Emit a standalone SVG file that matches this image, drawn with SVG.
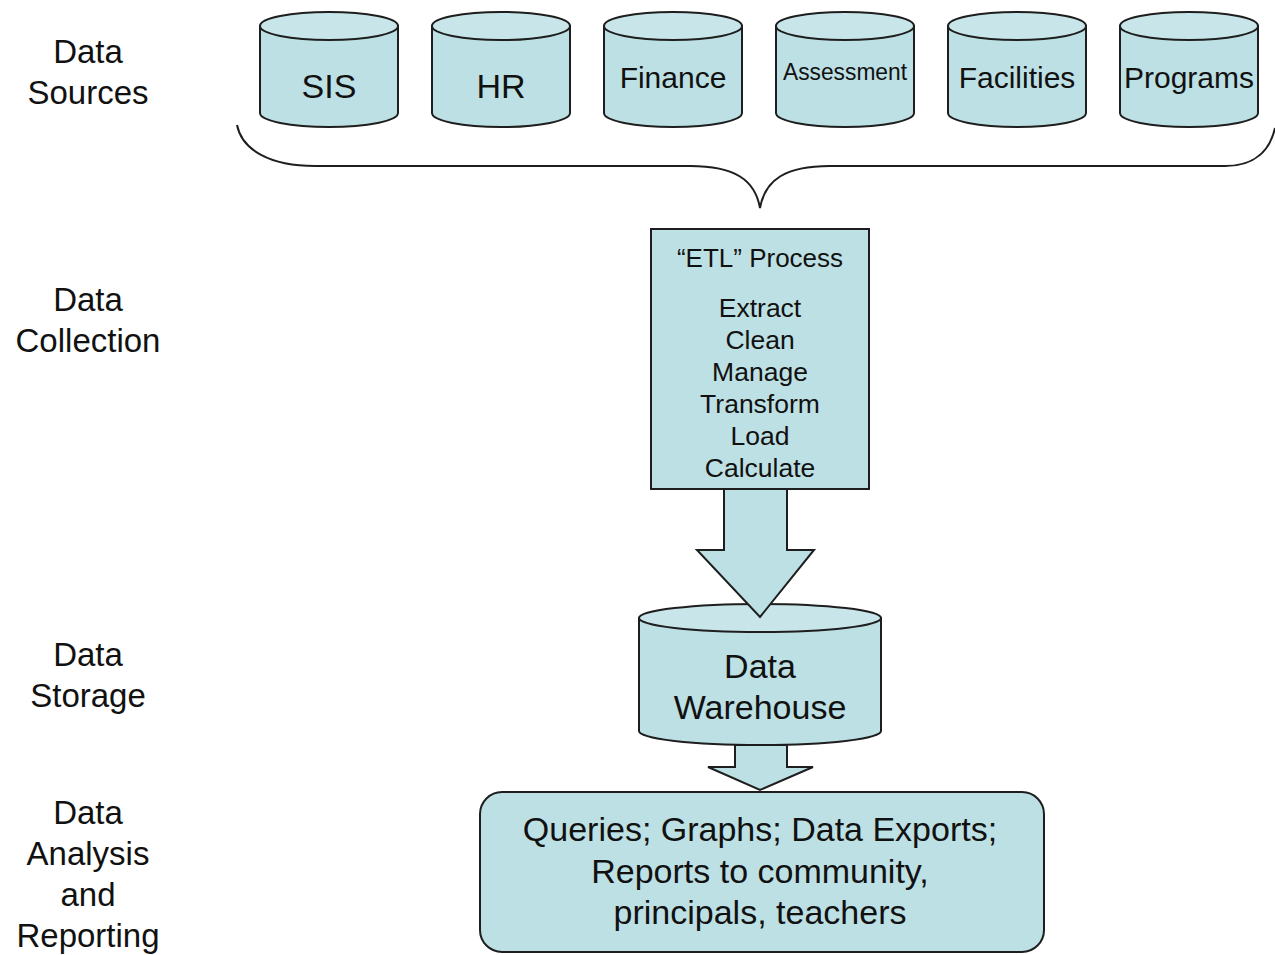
<svg xmlns="http://www.w3.org/2000/svg" width="1275" height="955" viewBox="0 0 1275 955">
<style>
.sh{fill:#bde0e4;stroke:#1e1e1e;stroke-width:2}
.top{fill:#c8e6ea;stroke:#1e1e1e;stroke-width:2}
.t{font-family:"Liberation Sans",Arial,sans-serif;fill:#111;text-anchor:middle}
.lbl{font-family:"Liberation Sans",Arial,sans-serif;fill:#111;text-anchor:middle;font-size:33px}
.br{fill:none;stroke:#1e1e1e;stroke-width:2}
</style>
<rect width="1275" height="955" fill="#fff"/>
<g id="labels">
<text class="lbl" x="88" y="63">Data</text>
<text class="lbl" x="88" y="104">Sources</text>
<text class="lbl" x="88" y="311">Data</text>
<text class="lbl" x="88" y="352">Collection</text>
<text class="lbl" x="88" y="666">Data</text>
<text class="lbl" x="88" y="707">Storage</text>
<text class="lbl" x="88" y="824">Data</text>
<text class="lbl" x="88" y="865">Analysis</text>
<text class="lbl" x="88" y="906">and</text>
<text class="lbl" x="88" y="947">Reporting</text>
</g>
<g id="sis">
<path class="sh" d="M260,26 L260,113 A69,14 0 0 0 398,113 L398,26 Z"/>
<ellipse class="top" cx="329" cy="26" rx="69" ry="14"/>
<text class="t" x="329" y="98" font-size="34">SIS</text>
</g>
<g id="hr">
<path class="sh" d="M432,26 L432,113 A69,14 0 0 0 570,113 L570,26 Z"/>
<ellipse class="top" cx="501" cy="26" rx="69" ry="14"/>
<text class="t" x="501" y="98" font-size="34">HR</text>
</g>
<g id="finance">
<path class="sh" d="M604,26 L604,113 A69,14 0 0 0 742,113 L742,26 Z"/>
<ellipse class="top" cx="673" cy="26" rx="69" ry="14"/>
<text class="t" x="673" y="88" font-size="30">Finance</text>
</g>
<g id="assessment">
<path class="sh" d="M776,26 L776,113 A69,14 0 0 0 914,113 L914,26 Z"/>
<ellipse class="top" cx="845" cy="26" rx="69" ry="14"/>
<text class="t" x="845" y="80" font-size="23" textLength="124" lengthAdjust="spacingAndGlyphs">Assessment</text>
</g>
<g id="facilities">
<path class="sh" d="M948,26 L948,113 A69,14 0 0 0 1086,113 L1086,26 Z"/>
<ellipse class="top" cx="1017" cy="26" rx="69" ry="14"/>
<text class="t" x="1017" y="88" font-size="30">Facilities</text>
</g>
<g id="programs">
<path class="sh" d="M1120,26 L1120,113 A69,14 0 0 0 1258,113 L1258,26 Z"/>
<ellipse class="top" cx="1189" cy="26" rx="69" ry="14"/>
<text class="t" x="1189" y="88" font-size="30">Programs</text>
</g>
<g id="etl">
<rect class="sh" x="651" y="229" width="218" height="260"/>
<text class="t" x="760" y="267" font-size="26">“ETL” Process</text>
<text class="t" x="760" y="317" font-size="26.5">Extract</text>
<text class="t" x="760" y="349" font-size="26.5">Clean</text>
<text class="t" x="760" y="381" font-size="26.5">Manage</text>
<text class="t" x="760" y="413" font-size="26.5">Transform</text>
<text class="t" x="760" y="445" font-size="26.5">Load</text>
<text class="t" x="760" y="477" font-size="26.5">Calculate</text>
</g>
<g id="warehouse">
<path class="sh" d="M639,618 L639,731 A121,14 0 0 0 881,731 L881,618 Z"/>
<ellipse class="top" cx="760" cy="618" rx="121" ry="14"/>
<text class="t" x="760" y="678" font-size="34">Data</text>
<text class="t" x="760" y="719" font-size="34">Warehouse</text>
</g>
<g id="reporting">
<rect class="sh" x="480" y="792" width="564" height="160" rx="22"/>
<text class="t" x="760" y="841" font-size="34">Queries; Graphs; Data Exports;</text>
<text class="t" x="760" y="883" font-size="34">Reports to community,</text>
<text class="t" x="760" y="924" font-size="34">principals, teachers</text>
</g>
<g id="connectors">
<path class="br" d="M237,125 C242,150 270,166 315,166 L690,166 C735,166 755,180 760,208 C765,180 785,166 830,166 L1225,166 C1255,166 1270,150 1275,128"/>
<path class="sh" d="M724,489 L787,489 L787,550 L814,550 L760,617 L697,550 L724,550 Z"/>
<path class="sh" d="M735,745 L787,745 L787,767 L813,767 L760,790 L708,767 L735,767 Z"/>
</g>
</svg>
